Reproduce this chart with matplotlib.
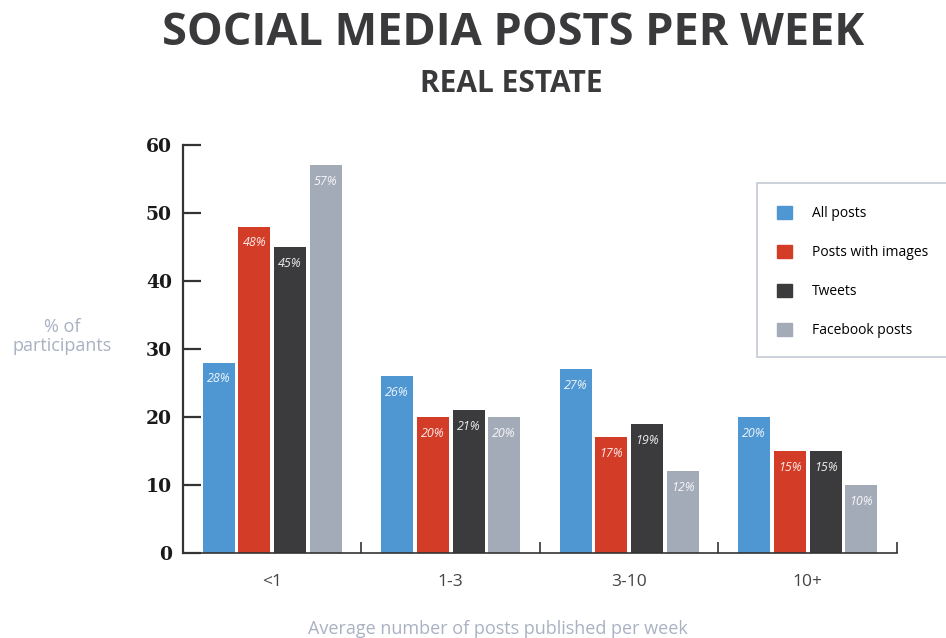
import numpy as np
import matplotlib.pyplot as plt
from matplotlib.patches import Patch, Rectangle

# data
categories = ["<1", "1-3", "3-10", "10+"]
series = ["All posts", "Posts with images", "Tweets", "Facebook posts"]
all_posts = [28, 26, 27, 20]
with_images = [48, 20, 17, 15]
tweets = [45, 21, 19, 15]
facebook = [57, 20, 12, 10]
colors = ["#4f97d3", "#d33c27", "#3b3b3d", "#a4abb8"]

TEXT_DARK = "#3a3a3c"
TEXT_LIGHT = "#a9b1c2"

fig = plt.figure(figsize=(9.46, 6.38), dpi=100)
ax = fig.add_axes([0.1934, 0.1332, 0.7548, 0.6395])

x = np.arange(len(categories))
width = 0.18
step = 0.2
for i, (vals, col) in enumerate(zip([all_posts, with_images, tweets, facebook], colors)):
    pos = x + (i - 1.5) * step
    bars = ax.bar(pos, vals, width=width, color=col, zorder=2)
    for b, v in zip(bars, vals):
        ax.text(b.get_x() + b.get_width() / 2, v - 2.4, f"{v}%",
                ha="center", va="center", color="white", alpha=0.9,
                fontsize=9, style="italic", family="Open Sans")

ax.set_xlim(-0.5, 3.5)
ax.set_ylim(0, 60)
ax.set_yticks(range(0, 61, 10))
ax.set_yticklabels([str(v) for v in range(0, 61, 10)],
                   family="DejaVu Serif", fontweight="bold", fontsize=13.5, color="#1a1a1a")
ax.tick_params(axis="y", direction="in", length=13, width=1.6, color="#333333", pad=8)

ax.set_xticks(x)
ax.set_xticklabels(categories, family="Open Sans", fontsize=12.5, color="#444446")
ax.tick_params(axis="x", length=0, pad=15)
ax.set_xticks([0.5, 1.5, 2.5, 3.5], minor=True)
ax.tick_params(axis="x", which="minor", direction="in", length=8, width=1.2, color="#333333")

for s in ["top", "right"]:
    ax.spines[s].set_visible(False)
ax.spines["left"].set_color("#333333")
ax.spines["left"].set_linewidth(1.6)
ax.spines["bottom"].set_color("#333333")
ax.spines["bottom"].set_linewidth(1.2)

# title / subtitle
fig.text(0.542, 0.948, "SOCIAL MEDIA POSTS PER WEEK", ha="center", va="center",
         family="Open Sans", fontweight="bold", fontsize=32.5, color=TEXT_DARK)
fig.text(0.541, 0.869, "REAL ESTATE", ha="center", va="center",
         family="Open Sans", fontweight="bold", fontsize=21.5, color=TEXT_DARK)

# axis labels
fig.text(0.066, 0.473, "% of\nparticipants", ha="center", va="center",
         family="Open Sans", fontsize=13, color=TEXT_LIGHT, linespacing=1.05)
fig.text(0.526, 0.014, "Average number of posts published per week", ha="center", va="center",
         family="Open Sans", fontsize=13, color=TEXT_LIGHT)

# legend (frame drawn separately so it runs off the right edge like the original)
fig.patches.append(Rectangle((757 / 946, 1 - 357 / 638), 0.3, 174 / 638,
                             transform=fig.transFigure, facecolor="white",
                             edgecolor="#c5cad4", linewidth=1.2, zorder=0))
handles = [Patch(facecolor=c, edgecolor=c) for c in colors]
leg = fig.legend(handles, series, loc="upper left", bbox_to_anchor=(777 / 946, 1 - 206 / 638),
                 frameon=False, prop={"family": "Open Sans", "size": 10},
                 handlelength=1.1, handleheight=1.1, handletextpad=1.4,
                 labelspacing=1.7, borderpad=0, borderaxespad=0)

fig.savefig("out.png", dpi=100)
